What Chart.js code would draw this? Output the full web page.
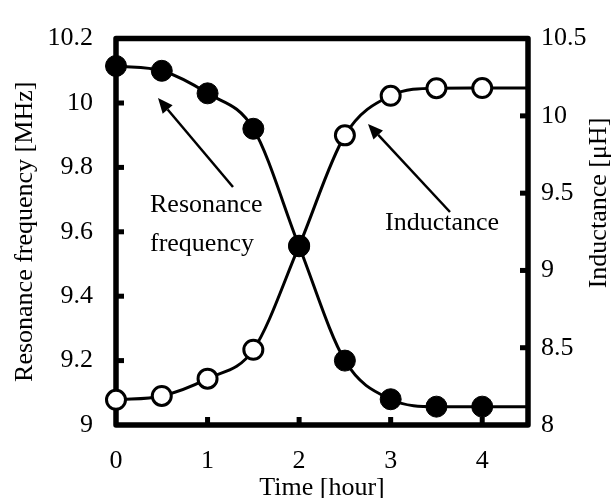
<!DOCTYPE html>
<html>
<head>
<meta charset="utf-8">
<script src="https://cdn.jsdelivr.net/npm/chart.js@4.4.1/dist/chart.umd.min.js"></script>
<style>
html, body { margin: 0; padding: 0; background: #fff; }
</style>
</head>
<body>
<canvas id="graph1" width="615" height="498"></canvas>
<script>
var hours = [0, 0.5, 1, 1.5, 2, 2.5, 3, 3.5, 4];
var freq = [10.115, 10.10, 10.03, 9.92, 9.555, 9.20, 9.08, 9.057, 9.057];
var induct = [8.163, 8.188, 8.30, 8.487, 9.159, 9.874, 10.13, 10.179, 10.18];

// the fitted curves carry on flat to the right edge
var curveEnd = 4.5;
var freqEnd = 9.057;
var inductEnd = 10.18;

var hourTicks = [0, 1, 2, 3, 4];
var freqTicks = [9, 9.2, 9.4, 9.6, 9.8, 10, 10.2];
var inductTicks = [8, 8.5, 9, 9.5, 10, 10.5];

var serif = "'Liberation Serif', 'Times New Roman', serif";

function points(ys, endY) {
  var pts = hours.map(function (h, i) { return {x: h, y: ys[i]}; });
  pts.push({x: curveEnd, y: endY});
  return pts;
}

function markerRadius(r) {
  return function (c) { return c.dataIndex < hours.length ? r : 0; };
}

function fixedTicks(list) {
  return function (sc) {
    sc.ticks = list.map(function (v) { return {value: v}; });
  };
}

function plain(v) {
  return String(parseFloat(Number(v).toFixed(2)));
}

// box round the plot with small inward ticks
var frame = {
  id: 'frame',
  beforeDatasetsDraw: function (chart) {
    var ctx = chart.ctx, a = chart.chartArea, s = chart.scales;
    ctx.save();
    ctx.strokeStyle = '#000';
    ctx.lineWidth = 5.5;
    ctx.lineJoin = 'round';
    ctx.strokeRect(a.left, a.top, a.right - a.left, a.bottom - a.top);
    ctx.fillStyle = '#000';
    s.x.ticks.forEach(function (t) {
      var px = s.x.getPixelForValue(t.value);
      if (px > a.left + 4 && px < a.right - 4) ctx.fillRect(px - 2.5, a.bottom - 8, 5, 8);
    });
    s.y.ticks.forEach(function (t) {
      var py = s.y.getPixelForValue(t.value);
      if (py > a.top + 4 && py < a.bottom - 4) ctx.fillRect(a.left, py - 2.5, 8, 5);
    });
    s.y2.ticks.forEach(function (t) {
      var py = s.y2.getPixelForValue(t.value);
      if (py > a.top + 4 && py < a.bottom - 4) ctx.fillRect(a.right - 8, py - 2.5, 8, 5);
    });
    ctx.restore();
  }
};

function arrow(ctx, x0, y0, x1, y1) {
  var ang = Math.atan2(y1 - y0, x1 - x0);
  var len = 15, half = 6.5;
  var bx = x1 - len * Math.cos(ang), by = y1 - len * Math.sin(ang);
  ctx.beginPath();
  ctx.moveTo(x0, y0);
  ctx.lineTo(bx, by);
  ctx.stroke();
  ctx.beginPath();
  ctx.moveTo(x1, y1);
  ctx.lineTo(bx + half * Math.sin(ang), by - half * Math.cos(ang));
  ctx.lineTo(bx - half * Math.sin(ang), by + half * Math.cos(ang));
  ctx.closePath();
  ctx.fill();
}

// curve labels, arrows and the right-hand axis title
var notes = {
  id: 'notes',
  afterDatasetsDraw: function (chart) {
    var ctx = chart.ctx;
    ctx.save();
    ctx.fillStyle = '#000';
    ctx.strokeStyle = '#000';
    ctx.lineWidth = 2.5;
    ctx.font = '26px ' + serif;
    ctx.textBaseline = 'middle';
    ctx.textAlign = 'left';
    ctx.fillText('Resonance', 150, 205);
    ctx.fillText('frequency', 150, 244);
    ctx.fillText('Inductance', 385, 223);
    arrow(ctx, 233, 187, 158, 98);
    arrow(ctx, 450, 212, 368, 124);
    ctx.translate(599, 203);
    ctx.rotate(-Math.PI / 2);
    ctx.textAlign = 'center';
    ctx.fillText('Inductance [\u03bcH]', 0, 0);
    ctx.restore();
  }
};

var tickFont = {family: serif, size: 26};

var graph1 = document.getElementById('graph1').getContext('2d');
var chart = new Chart(graph1, {
  type: 'scatter',
  data: {
    datasets: [{
      label: 'Inductance',
      data: points(induct, inductEnd),
      yAxisID: 'y2',
      showLine: true,
      cubicInterpolationMode: 'monotone',
      borderColor: '#000',
      borderWidth: 3,
      pointRadius: markerRadius(9.5),
      pointBorderWidth: 3,
      pointBackgroundColor: '#fff',
      pointBorderColor: '#000',
      clip: false,
      order: 2
    }, {
      label: 'Resonance frequency',
      data: points(freq, freqEnd),
      yAxisID: 'y',
      showLine: true,
      cubicInterpolationMode: 'monotone',
      borderColor: '#000',
      borderWidth: 3,
      pointRadius: markerRadius(10.5),
      pointBorderWidth: 1,
      pointBackgroundColor: '#000',
      pointBorderColor: '#000',
      clip: false,
      order: 1
    }]
  },
  options: {
    responsive: false,
    animation: false,
    devicePixelRatio: 1,
    layout: {padding: {top: 26, left: 0, right: 0, bottom: 0}},
    plugins: {legend: {display: false}, tooltip: {enabled: false}},
    scales: {
      x: {
        type: 'linear',
        min: 0, max: curveEnd,
        grid: {display: false, drawTicks: false},
        border: {display: false},
        ticks: {padding: 21, color: '#000', font: tickFont, callback: plain},
        afterBuildTicks: fixedTicks(hourTicks),
        afterFit: function (sc) { sc.height = 73; },
        title: {
          display: true, text: 'Time [hour]', color: '#000',
          font: {family: serif, size: 26, lineHeight: 1},
          padding: {top: 0, bottom: -3}
        }
      },
      y: {
        position: 'left',
        min: freqTicks[0], max: freqTicks[freqTicks.length - 1],
        grid: {display: false, drawTicks: false},
        border: {display: false},
        ticks: {padding: 23, color: '#000', font: tickFont, callback: plain},
        afterBuildTicks: fixedTicks(freqTicks),
        afterFit: function (sc) { sc.width = 116; },
        title: {
          display: true, text: 'Resonance frequency [MHz]', color: '#000',
          font: {family: serif, size: 26, lineHeight: 1},
          padding: {top: 12, bottom: 0}
        }
      },
      y2: {
        position: 'right',
        min: inductTicks[0], max: inductTicks[inductTicks.length - 1],
        grid: {display: false, drawTicks: false},
        border: {display: false},
        ticks: {padding: 13, color: '#000', font: tickFont, callback: plain},
        afterBuildTicks: fixedTicks(inductTicks),
        afterFit: function (sc) { sc.width = 87; }
      }
    }
  },
  plugins: [frame, notes]
});
</script>
</body>
</html>
